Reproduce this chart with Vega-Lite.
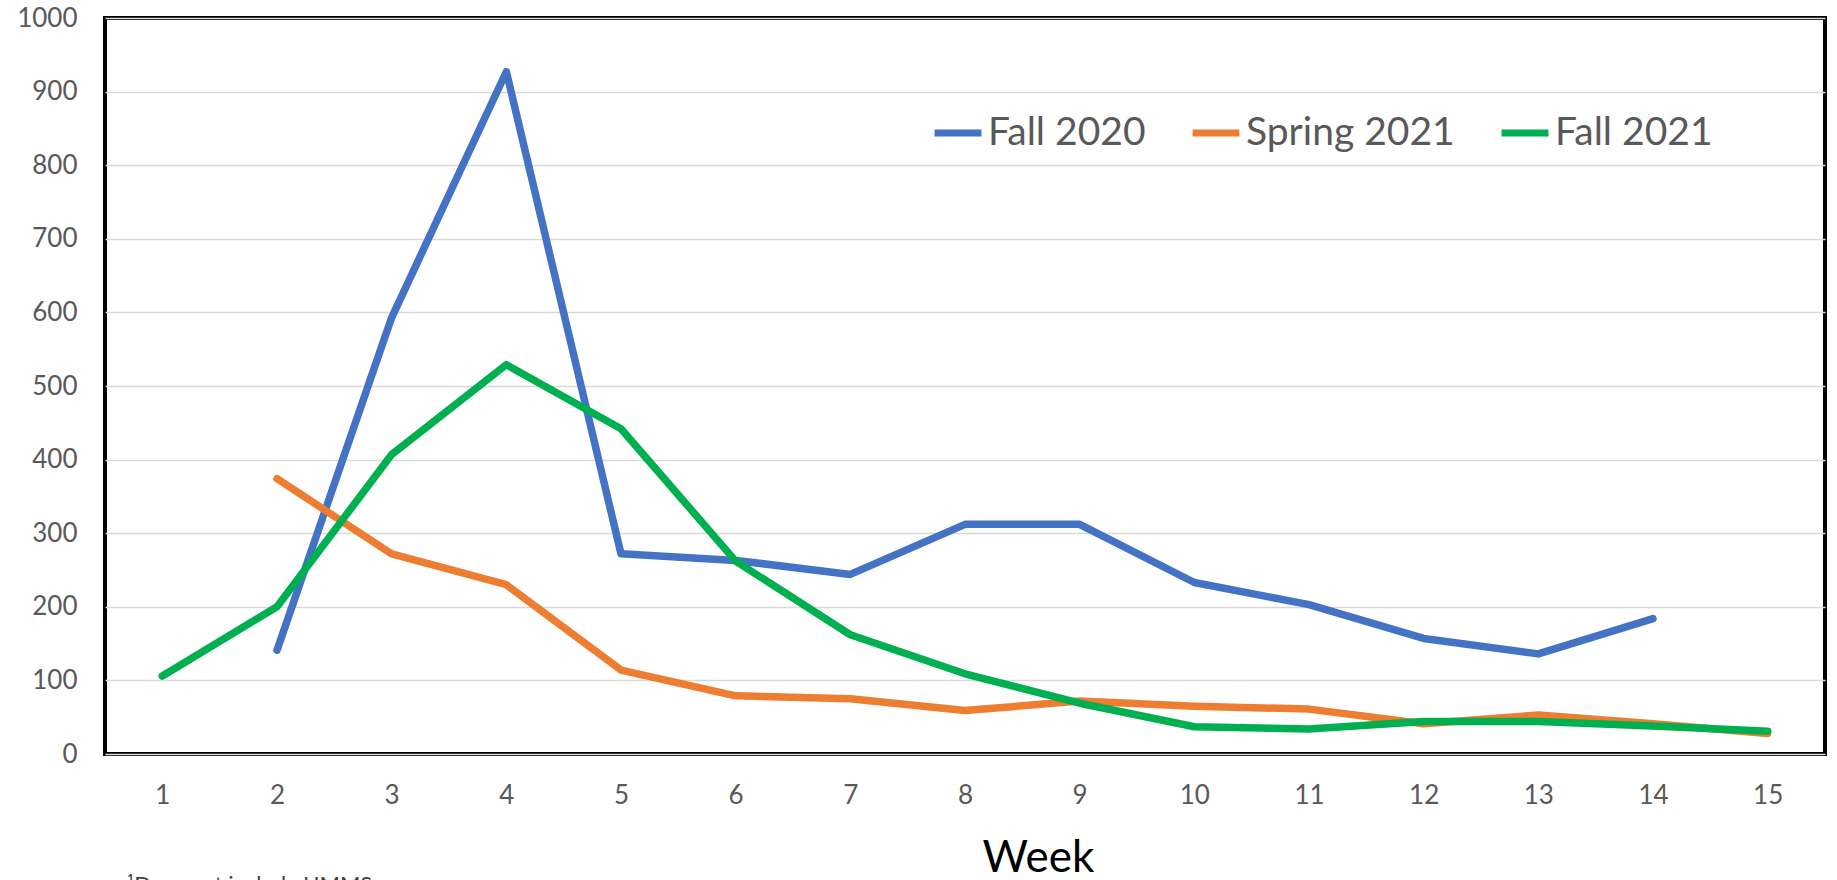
{
  "$schema": "https://vega.github.io/schema/vega-lite/v6.json",
  "autosize": "none",
  "width": 1720,
  "height": 736,
  "padding": {"left": 105, "top": 18, "right": 12, "bottom": 126},
  "background": "white",
  "config": {
    "font": "Lato",
    "view": {"stroke": "#000000", "strokeWidth": 4}
  },
  "title": {
    "text": "¹Does not include UMMS",
    "orient": "bottom",
    "anchor": "start",
    "frame": "group",
    "font": "Lato",
    "fontSize": 22,
    "fontWeight": "normal",
    "color": "#404040",
    "offset": 0,
    "dx": 22,
    "dy": -5
  },
  "data": {
    "values": [
      {"week": 2, "series": "Fall 2020", "count": 141},
      {"week": 3, "series": "Fall 2020", "count": 593},
      {"week": 4, "series": "Fall 2020", "count": 927},
      {"week": 5, "series": "Fall 2020", "count": 272},
      {"week": 6, "series": "Fall 2020", "count": 263},
      {"week": 7, "series": "Fall 2020", "count": 244},
      {"week": 8, "series": "Fall 2020", "count": 312},
      {"week": 9, "series": "Fall 2020", "count": 312},
      {"week": 10, "series": "Fall 2020", "count": 233},
      {"week": 11, "series": "Fall 2020", "count": 203},
      {"week": 12, "series": "Fall 2020", "count": 157},
      {"week": 13, "series": "Fall 2020", "count": 136},
      {"week": 14, "series": "Fall 2020", "count": 184},
      {"week": 2, "series": "Spring 2021", "count": 374},
      {"week": 3, "series": "Spring 2021", "count": 272},
      {"week": 4, "series": "Spring 2021", "count": 230},
      {"week": 5, "series": "Spring 2021", "count": 114},
      {"week": 6, "series": "Spring 2021", "count": 79},
      {"week": 7, "series": "Spring 2021", "count": 75},
      {"week": 8, "series": "Spring 2021", "count": 59},
      {"week": 9, "series": "Spring 2021", "count": 72},
      {"week": 10, "series": "Spring 2021", "count": 65},
      {"week": 11, "series": "Spring 2021", "count": 61},
      {"week": 12, "series": "Spring 2021", "count": 41},
      {"week": 13, "series": "Spring 2021", "count": 53},
      {"week": 14, "series": "Spring 2021", "count": 41},
      {"week": 15, "series": "Spring 2021", "count": 28},
      {"week": 1, "series": "Fall 2021", "count": 106},
      {"week": 2, "series": "Fall 2021", "count": 200},
      {"week": 3, "series": "Fall 2021", "count": 407},
      {"week": 4, "series": "Fall 2021", "count": 529},
      {"week": 5, "series": "Fall 2021", "count": 442},
      {"week": 6, "series": "Fall 2021", "count": 262},
      {"week": 7, "series": "Fall 2021", "count": 162},
      {"week": 8, "series": "Fall 2021", "count": 109},
      {"week": 9, "series": "Fall 2021", "count": 69},
      {"week": 10, "series": "Fall 2021", "count": 37},
      {"week": 11, "series": "Fall 2021", "count": 34},
      {"week": 12, "series": "Fall 2021", "count": 44},
      {"week": 13, "series": "Fall 2021", "count": 44},
      {"week": 14, "series": "Fall 2021", "count": 38},
      {"week": 15, "series": "Fall 2021", "count": 31}
    ]
  },
  "mark": {"type": "line", "strokeWidth": 7.5, "strokeCap": "round", "strokeJoin": "round"},
  "encoding": {
    "x": {
      "field": "week",
      "type": "ordinal",
      "scale": {"type": "point", "padding": 0.5, "domain": [1,2,3,4,5,6,7,8,9,10,11,12,13,14,15]},
      "axis": {
        "title": "Week",
        "titleFont": "Lato",
        "titleFontSize": 44,
        "titleFontWeight": "normal",
        "titleColor": "#000000",
        "titlePadding": 28,
        "titleX": 933,
        "titleAlign": "center",
        "labelAngle": 0,
        "labelFont": "Lato",
        "labelFontSize": 26,
        "labelColor": "#595959",
        "labelPadding": 28,
        "ticks": false,
        "domain": false,
        "grid": false
      }
    },
    "y": {
      "field": "count",
      "type": "quantitative",
      "scale": {"domain": [0, 1000], "nice": false},
      "axis": {
        "title": null,
        "format": "d",
        "values": [0,100,200,300,400,500,600,700,800,900,1000],
        "labelFont": "Lato",
        "labelFontSize": 26,
        "labelColor": "#595959",
        "labelPadding": 28,
        "ticks": false,
        "domain": false,
        "grid": true,
        "gridColor": "#D9D9D9",
        "gridWidth": 1.5
      }
    },
    "color": {
      "field": "series",
      "type": "nominal",
      "scale": {
        "domain": ["Fall 2020", "Spring 2021", "Fall 2021"],
        "range": ["#4472C4", "#ED7D31", "#00B050"]
      },
      "legend": {
        "title": null,
        "orient": "none",
        "direction": "horizontal",
        "legendX": 826,
        "legendY": 88,
        "symbolType": "stroke",
        "symbolSize": 2200,
        "symbolStrokeWidth": 7,
        "labelFont": "Lato",
        "labelFontSize": 39,
        "labelColor": "#595959",
        "labelOffset": 3,
        "labelLimit": 400,
        "columnPadding": 32
      }
    }
  }
}
